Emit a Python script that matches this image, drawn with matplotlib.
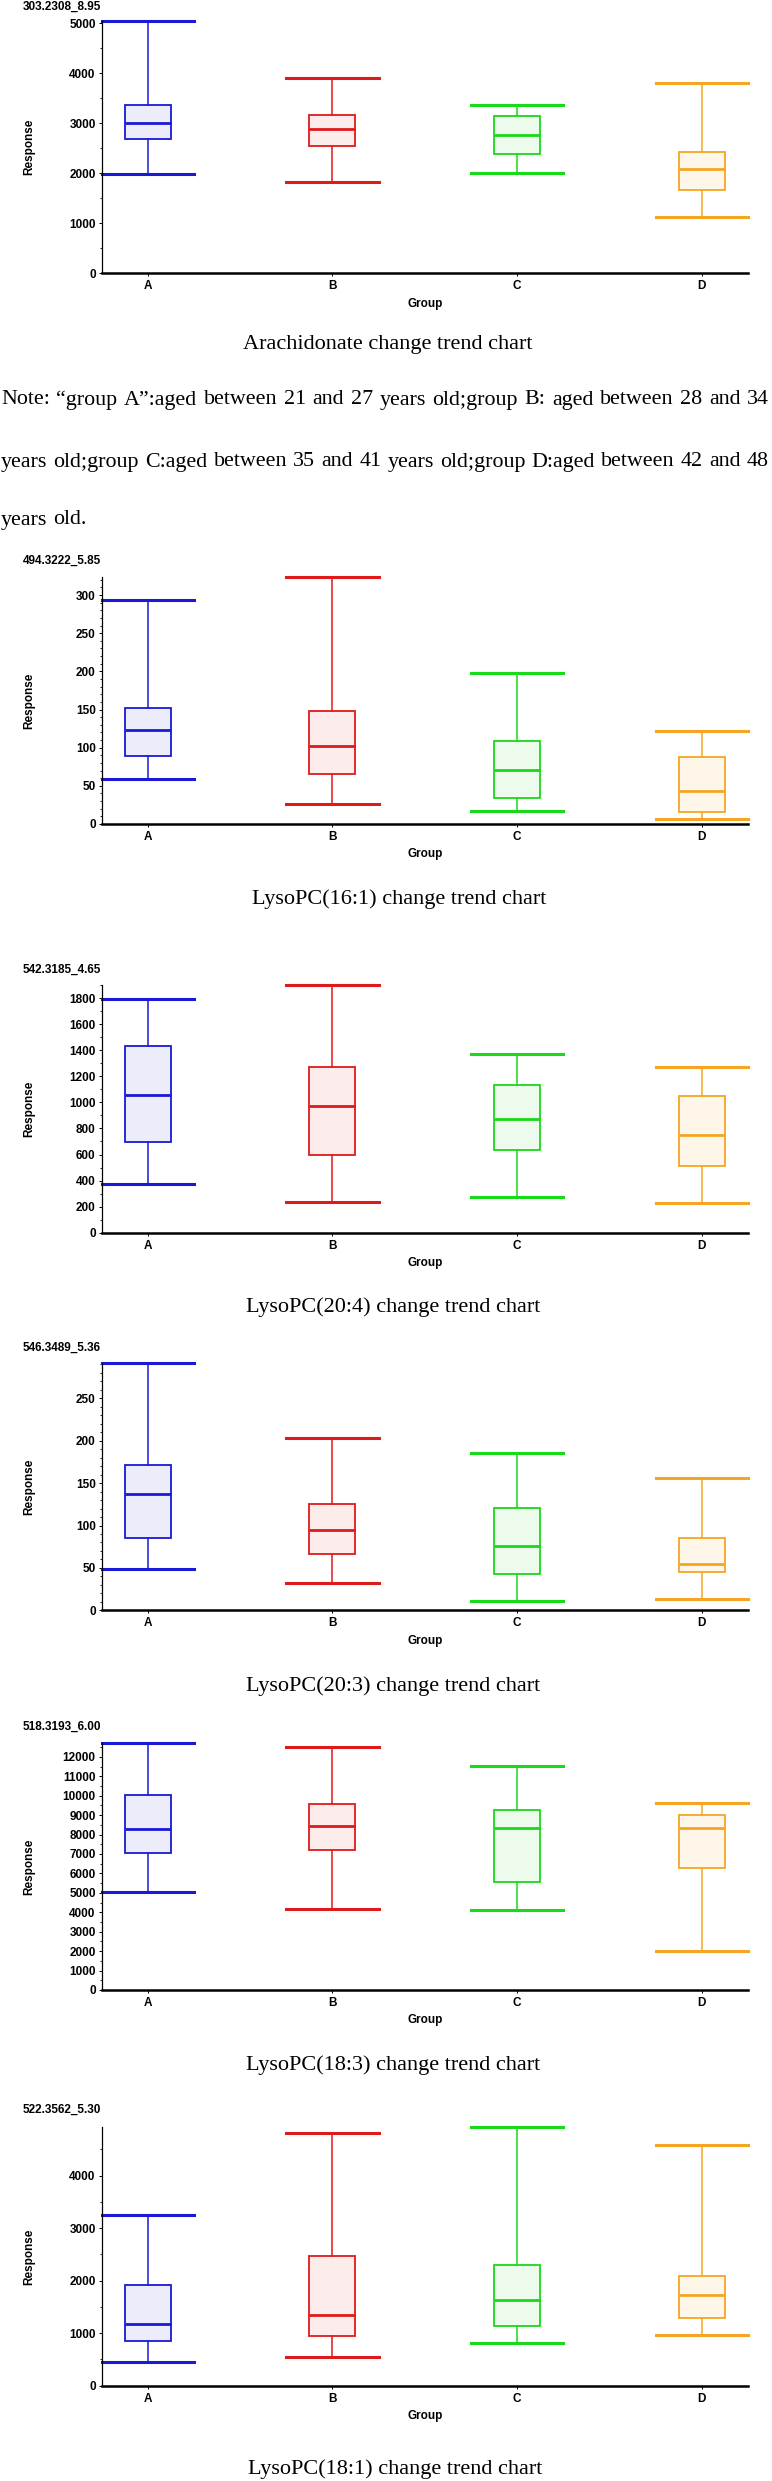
import matplotlib
matplotlib.use('Agg')
import matplotlib.pyplot as plt
from matplotlib.ticker import MultipleLocator

# ---------------- data ----------------
groups = ['A', 'B', 'C', 'D']

arach_low = [1990, 1823, 2003, 1114]
arach_q1 = [2679, 2538, 2391, 1669]
arach_med = [2993, 2886, 2766, 2077]
arach_q3 = [3361, 3161, 3147, 2418]
arach_high = [5047, 3896, 3361, 3809]

lpc161_low = [59.5, 26.2, 17.5, 6.1]
lpc161_q1 = [89.2, 65.6, 33.7, 15.3]
lpc161_med = [123.3, 101.9, 71.3, 43.3]
lpc161_q3 = [151.7, 147.4, 108.9, 87.9]
lpc161_high = [293.8, 324, 198, 122.4]

lpc204_low = [376, 234, 272, 231]
lpc204_q1 = [699, 593, 637, 513]
lpc204_med = [1058, 973, 872, 748]
lpc204_q3 = [1436, 1273, 1131, 1050]
lpc204_high = [1795, 1901, 1374, 1273]

lpc203_low = [48.8, 32.1, 10.7, 13.1]
lpc203_q1 = [84.9, 65.9, 42.9, 45.2]
lpc203_med = [137, 95.2, 75.4, 55.2]
lpc203_q3 = [171.3, 125.4, 121, 84.9]
lpc203_high = [291.7, 203, 185, 156.3]

lpc183_low = [5043, 4145, 4111, 2021]
lpc183_q1 = [7064, 7202, 5561, 6269]
lpc183_med = [8307, 8446, 8342, 8325]
lpc183_q3 = [10051, 9576, 9254, 8981]
lpc183_high = [12695, 12491, 11542, 9603]

lpc181_low = [444, 539, 818, 964]
lpc181_q1 = [849, 951, 1135, 1287]
lpc181_med = [1166, 1344, 1629, 1724]
lpc181_q3 = [1921, 2466, 2307, 2086]
lpc181_high = [3246, 4811, 4926, 4583]

ids = ['303.2308_8.95', '494.3222_5.85', '542.3185_4.65',
       '546.3489_5.36', '518.3193_6.00', '522.3562_5.30']
captions = ['Arachidonate change trend chart', 'LysoPC(16:1) change trend chart',
            'LysoPC(20:4) change trend chart', 'LysoPC(20:3) change trend chart',
            'LysoPC(18:3) change trend chart', 'LysoPC(18:1) change trend chart']
major_steps = [1000, 50, 200, 50, 1000, 1000]
minor_steps = [500, 10, 100, 10, 500, 500]

note_lines = [
    "Note: \u201cgroup A\u201d:aged between 21 and 27 years old;group B: aged between 28 and 34",
    "years old;group C:aged between 35 and 41 years old;group D:aged between 42 and 48",
    "years old.",
]

datasets = [
    (arach_low, arach_q1, arach_med, arach_q3, arach_high),
    (lpc161_low, lpc161_q1, lpc161_med, lpc161_q3, lpc161_high),
    (lpc204_low, lpc204_q1, lpc204_med, lpc204_q3, lpc204_high),
    (lpc203_low, lpc203_q1, lpc203_med, lpc203_q3, lpc203_high),
    (lpc183_low, lpc183_q1, lpc183_med, lpc183_q3, lpc183_high),
    (lpc181_low, lpc181_q1, lpc181_med, lpc181_q3, lpc181_high),
]

# ---------------- style ----------------
colors = ['#1A1AD6', '#DE1A1A', '#1AD81A', '#F4A623']
fills = ['#ECECFB', '#FDECEC', '#ECFBEC', '#FEF7E9']
sans = 'Liberation Sans'
serif = 'Liberation Serif'
small_fs = 8.5

W, H = 772, 2481
fig = plt.figure(figsize=(W / 100, H / 100), dpi=100)
renderer = fig.canvas.get_renderer()


def text_width(s, fs, family):
    t = fig.text(0, 0, s, fontfamily=family, fontsize=fs)
    w = t.get_window_extent(renderer).width
    t.remove()
    return w


# fit caption font size to the measured caption width (~296 px)
cap_fs = 10 * 296.0 / text_width('LysoPC(20:4) change trend chart', 10, serif)
# fit note font size so that the dense second line nearly fills the width
note_fs = 10 * 762.0 / text_width(note_lines[1], 10, serif)

# layout in pixels: (axes top, axes bottom, id-title y, caption y, caption x)
layout = [
    (20.8, 273.0, 7, 345, 388),
    (576.7, 824.0, 561, 899, 399),
    (985.0, 1232.7, 970, 1307, 393),
    (1363.0, 1610.3, 1348, 1686, 393),
    (1743.3, 1990.0, 1727, 2065, 393),
    (2127.0, 2385.7, 2110, 2469, 395),
]
ax_left, ax_right = 101.5, 748

for i, (data, (ytop, ybot, ytitle, ycap, xcap)) in enumerate(zip(datasets, layout)):
    low, q1, med, q3, high = data
    ax = fig.add_axes([ax_left / W, 1 - ybot / H, (ax_right - ax_left) / W, (ybot - ytop) / H])
    stats = [dict(whislo=low[k], q1=q1[k], med=med[k], q3=q3[k], whishi=high[k], fliers=[])
             for k in range(len(groups))]
    res = ax.bxp(stats, positions=range(len(groups)), widths=0.25, capwidths=0.5,
                 patch_artist=True, showfliers=False, manage_ticks=False)
    for k in range(len(groups)):
        c = colors[k]
        res['boxes'][k].set(facecolor=fills[k], edgecolor=c, linewidth=1.3)
        res['medians'][k].set(color=c, linewidth=2.0)
        for w in res['whiskers'][2 * k:2 * k + 2]:
            w.set(color=c, linewidth=1.1)
        for cp in res['caps'][2 * k:2 * k + 2]:
            cp.set(color=c, linewidth=2.2, clip_on=False)
    ax.set_xlim(-0.25, len(groups) - 0.75)
    ax.set_ylim(0, max(high))
    ax.set_xticks(range(len(groups)))
    ax.set_xticklabels(groups, fontfamily=sans, fontsize=small_fs, fontweight='bold')
    ax.yaxis.set_major_locator(MultipleLocator(major_steps[i]))
    ax.yaxis.set_minor_locator(MultipleLocator(minor_steps[i]))
    for lab in ax.get_yticklabels():
        lab.set_fontfamily(sans)
        lab.set_fontsize(small_fs)
        lab.set_fontweight('bold')
    ax.tick_params(axis='y', which='major', length=2.2, width=0.7, pad=2.0, colors='black')
    ax.tick_params(axis='y', which='minor', length=1.2, width=0.6)
    ax.tick_params(axis='x', which='major', length=2.5, width=0.7, pad=2.5)
    ax.spines['top'].set_visible(False)
    ax.spines['right'].set_visible(False)
    ax.spines['left'].set_linewidth(0.9)
    ax.spines['bottom'].set_linewidth(1.8)
    ax.set_facecolor('none')

    fig.text(22.5 / W, 1 - ytitle / H, ids[i], fontfamily=sans, fontsize=small_fs,
             fontweight='bold', ha='left', va='center')
    fig.text(29.5 / W, 1 - (ytop + ybot) / 2 / H, 'Response', fontfamily=sans,
             fontsize=small_fs, fontweight='bold', rotation=90, ha='center', va='center')
    fig.text((ax_left + ax_right) / 2 / W, 1 - (ybot + 30.5) / H, 'Group',
             fontfamily=sans, fontsize=small_fs, fontweight='bold', ha='center', va='center')
    fig.text(xcap / W, 1 - ycap / H, captions[i], fontfamily=serif, fontsize=cap_fs,
             ha='center', va='center')

# justified note text
note_y = [400, 462, 520]
x0, x1 = 1, 769
space_w = text_width('a a', note_fs, serif) - text_width('aa', note_fs, serif)
for li, (line, y) in enumerate(zip(note_lines, note_y)):
    words = line.split(' ')
    texts = [fig.text(0, 1 - y / H, w, fontfamily=serif, fontsize=note_fs, ha='left', va='center')
             for w in words]
    widths = [t.get_window_extent(renderer).width for t in texts]
    if li < len(note_lines) - 1 and len(words) > 1:
        gap = (x1 - x0 - sum(widths)) / (len(words) - 1)
    else:
        gap = space_w
    x = x0
    for t, w in zip(texts, widths):
        t.set_x(x / W)
        x += w + gap

fig.savefig('out.png', dpi=100)
